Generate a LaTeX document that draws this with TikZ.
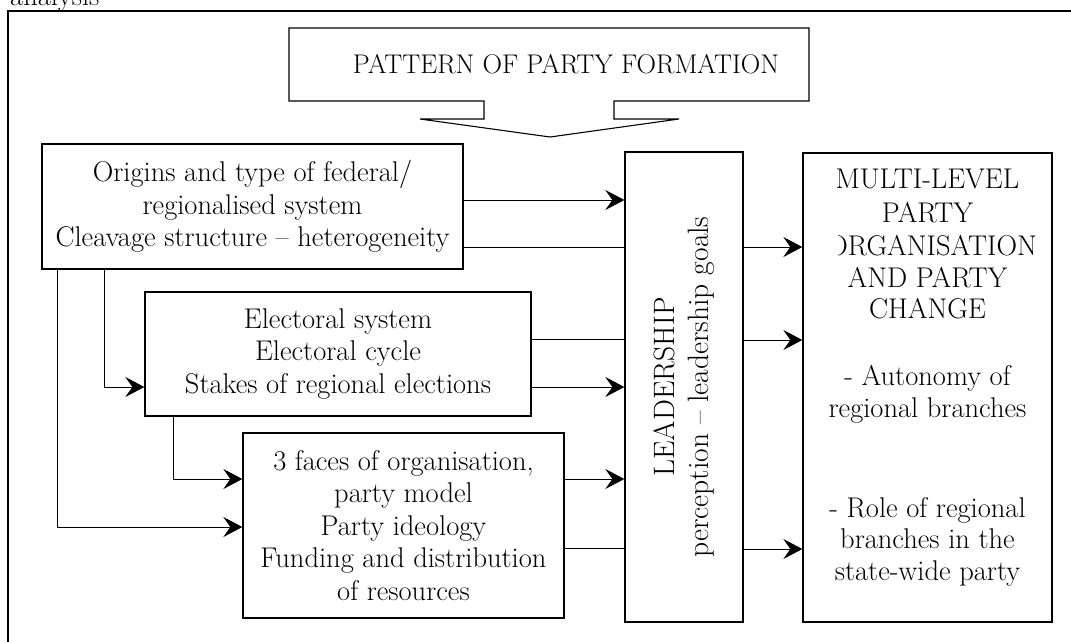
\documentclass[tikz,border=0pt]{standalone}
\usepackage{fontspec}
\usetikzlibrary{arrows.meta}
\begin{document}
\begin{tikzpicture}[x=1pt,y=-1pt,
  txt/.style={font=\fontsize{28.5}{32.5}\selectfont, align=center, inner sep=0pt},
  box/.style={draw, line width=1.3pt, rectangle, inner sep=0pt, align=center,
              font=\fontsize{28.5}{32.5}\selectfont},
  link/.style={line width=1pt},
  arr/.style={link, -{Stealth[length=19pt,width=20pt,inset=7pt]}},
  frame/.style={line width=1.8pt},
]
\useasboundingbox (0,0) rectangle (1071,641);
\clip (0,0) rectangle (1071,641);

% caption line running into the top edge
\node[txt, anchor=base west] (cap) at (10,5) {analysis};

% outer frame
\draw[frame] (8,660) -- (8,11) -- (1090,11);

% banner with the downward arrow
\draw[line width=1.1pt, line join=miter] (289,28) -- (809,28) -- (809,101) -- (614,101) -- (614,119)
  -- (679,119) -- (550,137) -- (420,119) -- (484,119) -- (484,101) -- (289,101) -- cycle;
\node[txt, anchor=base, font=\fontsize{27}{32}\selectfont] (title) at (566,73) {PATTERN OF PARTY FORMATION};

% factor boxes
\node[box, minimum width=421pt, minimum height=125pt] (b1) at (252.5,206.5)
  {Origins and type of federal/\\regionalised system\\Cleavage structure – heterogeneity};
\node[box, minimum width=386pt, minimum height=124pt] (b2) at (338,354)
  {Electoral system\\Electoral cycle\\Stakes of regional elections};
\node[box, minimum width=321pt, minimum height=185pt] (b3) at (403.5,525.5)
  {3 faces of organisation,\\party model\\Party ideology\\Funding and distribution\\of resources};

% leadership column
\node[box, minimum width=118pt, minimum height=470pt] (lead) at (684,387) {};
\node[txt, rotate=90, font=\fontsize{29.5}{34}\selectfont] (leadtext) at (684,387)
  {LEADERSHIP\\perception – leadership goals};

% outcome column
\node[box, minimum width=249pt, minimum height=469pt] (out) at (927.5,387.5) {};
\node[txt, anchor=base] (o1) at (927.5,188) {MULTI-LEVEL};
\node[txt, anchor=base] (o2) at (927.5,222) {PARTY};
\begin{scope}
  \clip (838,160) rectangle (1050,300);
  \node[txt, anchor=base east] (o3) at (1037,255) {ORGANISATION};
\end{scope}
\node[txt, anchor=base] (o4) at (927.5,287) {AND PARTY};
\node[txt, anchor=base] (o5) at (927.5,318) {CHANGE};
\node[txt, anchor=base] (o6) at (927.5,385) {- Autonomy of};
\node[txt, anchor=base] (o7) at (927.5,417) {regional branches};
\node[txt, anchor=base] (o8) at (927.5,517) {- Role of regional};
\node[txt, anchor=base] (o9) at (927.5,548) {branches in the};
\node[txt, anchor=base] (o10) at (927.5,580) {state-wide party};

% factors into leadership
\draw[arr]  (b1.east |- 0,200) -- (lead.west |- 0,200);
\draw[link] (b1.east |- 0,247) -- (lead.west |- 0,247);
\draw[link] (b2.east |- 0,339) -- (lead.west |- 0,339);
\draw[arr]  (b2.east |- 0,387) -- (lead.west |- 0,387);
\draw[arr]  (b3.east |- 0,479) -- (lead.west |- 0,479);
\draw[link] (b3.east |- 0,548) -- (lead.west |- 0,548);

% leadership into outcomes
\draw[arr] (lead.east |- 0,247) -- (out.west |- 0,247);
\draw[arr] (lead.east |- 0,340) -- (out.west |- 0,340);
\draw[arr] (lead.east |- 0,549) -- (out.west |- 0,549);

% cascade between factor boxes
\draw[arr] (b1.south -| 104,0) |- (b2.west |- 0,387);
\draw[arr] (b1.south -| 57,0)  |- (b3.west |- 0,527);
\draw[arr] (b2.south -| 173,0) |- (b3.west |- 0,479);
\end{tikzpicture}
\end{document}
